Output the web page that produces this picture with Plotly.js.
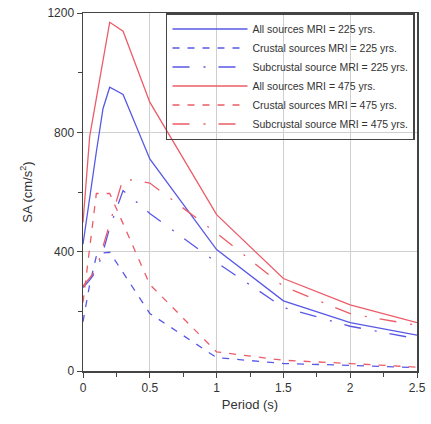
<!DOCTYPE html>
<html>
<head>
<meta charset="utf-8">
<script src="https://cdn.plot.ly/plotly-3.0.1.min.js"></script>
<style>html,body{margin:0;padding:0;background:#fff;}#chart{width:431px;height:424px;}</style>
</head>
<body>
<div id="chart"></div>
<script>
// Periods (s)
var periods = [0, 0.05, 0.1, 0.15, 0.2, 0.3, 0.5, 1.0, 1.5, 2.0, 2.5];

// SA (cm/s^2)
var allSources225      = [425, 585, 735, 880, 951, 927, 711, 407, 235, 162, 120];
var crustal225         = [165, 290, 385, 396, 398, 330, 193, 45, 25, 19, 11];
var subcrustal225      = [280, 305, 335, 400, 480, 605, 528, 364, 213, 150, 108];
var allSources475      = [498, 786, 914, 1041, 1169, 1139, 901, 524, 310, 222, 162];
var crustal475         = [230, 410, 595, 595, 595, 494, 290, 64, 36, 25, 13];
var subcrustal475      = [285, 312, 340, 418, 495, 645, 630, 462, 284, 192, 153];

var seriesNames = [
  "All sources MRI = 225 yrs.",
  "Crustal sources MRI = 225 yrs.",
  "Subcrustal source MRI = 225 yrs.",
  "All sources MRI = 475 yrs.",
  "Crustal sources MRI = 475 yrs.",
  "Subcrustal source MRI = 475 yrs."
];

var blue = "rgb(88,88,230)";
var red = "rgb(236,92,104)";
var dashDot = "17px,14px,2px,13px";
var dashed = "7px,8px";

function tr(y, name, color, dash) {
  return {x: periods, y: y, name: name, type: "scatter", mode: "lines",
          line: {color: color, width: 1.3, dash: dash}};
}

var data = [
  tr(allSources225, seriesNames[0], blue, "solid"),
  tr(crustal225, seriesNames[1], blue, dashed),
  tr(subcrustal225, seriesNames[2], blue, dashDot),
  tr(allSources475, seriesNames[3], red, "solid"),
  tr(crustal475, seriesNames[4], red, dashed),
  tr(subcrustal475, seriesNames[5], red, dashDot)
];

var axisFont = {family: "Liberation Sans, Arial, sans-serif", size: 12, color: "#333"};

var layout = {
  width: 431, height: 424,
  margin: {l: 83, r: 14, t: 13, b: 53},
  paper_bgcolor: "#fff", plot_bgcolor: "#fff",
  font: axisFont,
  showlegend: true,
  legend: {
    x: 0.2485, y: 1, xanchor: "left", yanchor: "top",
    bgcolor: "rgba(255,255,255,0)", bordercolor: "#444", borderwidth: 1.5,
    font: {family: "Liberation Sans, Arial, sans-serif", size: 10.5, color: "#333"},
    itemwidth: 75, tracegroupgap: 0
  },
  xaxis: {
    range: [0, 2.5], tickvals: [0, 0.5, 1, 1.5, 2, 2.5], ticktext: ["0", "0.5", "1", "1.5", "2", "2.5"],
    ticks: "outside", ticklen: 5, tickcolor: "#444", tickwidth: 1,
    showline: true, linecolor: "#444", linewidth: 1.5, mirror: true,
    showgrid: true, gridcolor: "#cfcfcf", gridwidth: 1, zeroline: false,
    minor: {dtick: 0.25, ticks: "outside", ticklen: 4, tickcolor: "#444", showgrid: false},
    title: {text: "Period (s)", font: {family: "Liberation Sans, Arial, sans-serif", size: 13, color: "#333"}, standoff: 6},
    tickfont: axisFont
  },
  yaxis: {
    range: [0, 1200], tickvals: [0, 400, 800, 1200], ticktext: ["0", "400", "800", "1200"],
    ticks: "outside", ticklen: 5, tickcolor: "#444", tickwidth: 1,
    showline: true, linecolor: "#444", linewidth: 1.5, mirror: true,
    showgrid: true, gridcolor: "#cfcfcf", gridwidth: 1, zeroline: false,
    minor: {dtick: 200, ticks: "outside", ticklen: 4, tickcolor: "#444", showgrid: false},
    title: {text: "SA (cm/s<sup>2</sup>)", font: {family: "Liberation Sans, Arial, sans-serif", size: 13, color: "#333"}, standoff: 12},
    tickfont: axisFont
  }
};

Plotly.newPlot("chart", data, layout, {displayModeBar: false, staticPlot: true});
</script>
</body>
</html>
